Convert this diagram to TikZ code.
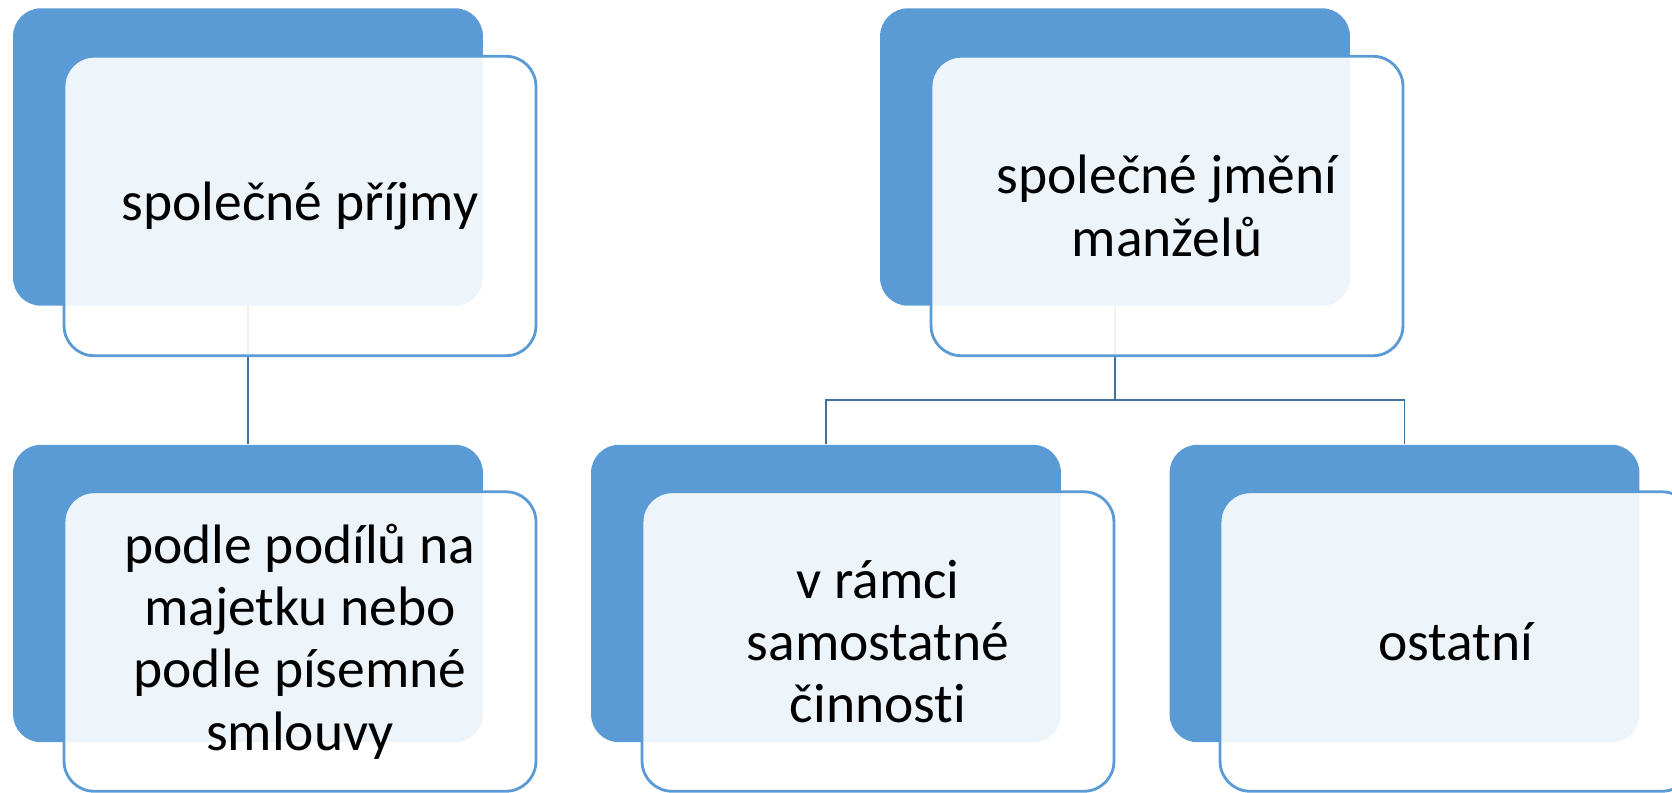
\documentclass[tikz,border=0pt]{standalone}
\usepackage{fontspec}
\setmainfont{Carlito}[Ligatures=CommonOff]
\definecolor{boxblue}{RGB}{91,155,213}
\definecolor{lineblue}{RGB}{65,113,156}

\begin{document}
\begin{tikzpicture}[x=0.02cm, y=-0.02cm,
  back/.style={fill=boxblue, rounded corners=0.56cm, minimum width=9.4cm, minimum height=5.95cm, inner sep=0pt},
  front/.style={draw=boxblue, line width=1.6pt, fill=white, fill opacity=0.9, text opacity=1,
    rounded corners=0.6cm, minimum width=9.44cm, minimum height=5.99cm, inner sep=0pt,
    align=center, font=\fontsize{31.6}{35.4}\selectfont},
  link/.style={draw=lineblue, line width=1.1pt}]
\clip (0,0) rectangle (1672,792);

\node[back] at (248,157) (a) {};
\node[back] at (248,593.5) (b) {};
\node[back] at (1115,157) (c) {};
\node[back] at (826,593.5) (d) {};
\node[back] at (1404.5,593.5) (e) {};

\coordinate (fork) at (1115,400);
\draw[link] (a.south) -- (b.north);
\draw[link] (c.south) -- (fork);
\draw[link] (d.north) |- (fork) -| (e.north);

\node[front] at (300,206) (a1) {společné příjmy};
\node[front] at (300,641.5) (b1) {podle podílů na\\majetku nebo\\podle písemné\\smlouvy};
\node[front] at (1167,206) (c1) {společné jmění\\manželů};
\node[front] at (878,641.5) (d1) {v rámci\\samostatné\\činnosti};
\node[front] at (1456,641.5) (e1) {ostatní};
\end{tikzpicture}
\end{document}
